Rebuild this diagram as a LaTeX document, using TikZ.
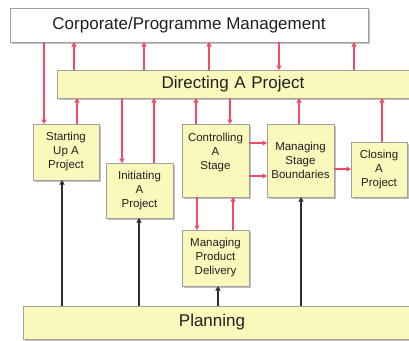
\documentclass[tikz,border=0pt]{standalone}
\usepackage{fontspec}
\setmainfont{Liberation Sans}
\usetikzlibrary{arrows.meta,shadows}
\definecolor{boxyel}{HTML}{FBF8BC}
\definecolor{redline}{HTML}{EE4D63}
\definecolor{blkline}{HTML}{2E2E33}
\definecolor{boxedge}{HTML}{A0A0A0}
\definecolor{txt}{HTML}{202020}
\tikzset{
  box/.style={draw=boxedge, line width=0.6pt, fill=boxyel, outer sep=0pt, inner sep=1pt,
    anchor=north west, align=center, text=txt,
    font=\fontsize{11.5}{14}\selectfont,
    drop shadow={shadow xshift=1.5pt, shadow yshift=-1.5pt, fill=black!35, opacity=0.7}},
  bigbox/.style={box, font=\fontsize{17}{20}\selectfont},
  ra/.style={draw=redline, line width=1.3pt, -{Triangle[length=4.5pt,width=5pt]}},
  ba/.style={draw=blkline, line width=1.4pt, -{Triangle[length=4.5pt,width=5pt]}},
}
\begin{document}
\begin{tikzpicture}[x=1pt,y=-1pt]
\useasboundingbox[fill=white] (0,0) rectangle (409,340);
% main boxes
\node[bigbox, fill=white, minimum width=358pt, minimum height=34pt] (corp) at (10,8) {Corporate/Programme Management};
\node[bigbox, minimum width=358pt, minimum height=28pt, text width=350pt] (dir) at (57,70) {\hspace*{-6pt}Directing A Project};
\node[bigbox, minimum width=392pt, minimum height=33pt, text width=384pt] (plan) at (23,306) {\hspace*{-14pt}Planning};
% process boxes
\node[box, minimum width=66pt, minimum height=56pt] (start) at (33,124) {Starting\\Up A\\Project};
\node[box, minimum width=67pt, minimum height=55pt] (init) at (106,163) {Initiating\\A\\Project};
\node[box, minimum width=67pt, minimum height=73pt] (ctrl) at (182,124) {Controlling\\A\\Stage\\[4pt]};
\node[box, minimum width=67pt, minimum height=73pt] (msb) at (267,124) {Managing\\Stage\\Boundaries};
\node[box, minimum width=56pt, minimum height=55pt] (close) at (351,142) {Closing\\A\\Project};
\node[box, minimum width=67pt, minimum height=56pt] (mpd) at (182,230) {Managing\\Product\\Delivery};
% column coordinates
\foreach \n/\x in {a/44,b/74,c/144,d/209,e/279,f/354,g/77,h/122,i/154,j/196,k/230,l/299,m/382,n/197,o/233,p/62,q/139,r/218,s/301}
  \coordinate (col\n) at (\x,0);
\foreach \n/\y in {a/143,b/176,c/169}
  \coordinate (row\n) at (0,\y);
% corporate <-> directing
\draw[ra] (corp.south -| cola) -- (start.north -| cola);
\draw[ra] (dir.north -| colb) -- (corp.south -| colb);
\draw[ra] (dir.north -| colc) -- (corp.south -| colc);
\draw[ra] (dir.north -| cold) -- (corp.south -| cold);
\draw[ra] (corp.south -| cole) -- (dir.north -| cole);
\draw[ra] (dir.north -| colf) -- (corp.south -| colf);
% directing <-> processes
\draw[ra] (start.north -| colg) -- (dir.south -| colg);
\draw[ra] (dir.south -| colh) -- (init.north -| colh);
\draw[ra] (init.north -| coli) -- (dir.south -| coli);
\draw[ra] (ctrl.north -| colj) -- (dir.south -| colj);
\draw[ra] (dir.south -| colk) -- (ctrl.north -| colk);
\draw[ra] (msb.north -| coll) -- (dir.south -| coll);
\draw[ra] (close.north -| colm) -- (dir.south -| colm);
% horizontal
\draw[ra] (ctrl.east |- rowa) -- (msb.west |- rowa);
\draw[ra] (ctrl.east |- rowb) -- (msb.west |- rowb);
\draw[ra] (msb.east |- rowc) -- (close.west |- rowc);
% controlling <-> mpd
\draw[ra] (ctrl.south -| coln) -- (mpd.north -| coln);
\draw[ra] (mpd.north -| colo) -- (ctrl.south -| colo);
% planning
\draw[ba] (plan.north -| colp) -- (start.south -| colp);
\draw[ba] (plan.north -| colq) -- (init.south -| colq);
\draw[ba] (plan.north -| colr) -- (mpd.south -| colr);
\draw[ba] (plan.north -| cols) -- (msb.south -| cols);
\end{tikzpicture}
\end{document}
